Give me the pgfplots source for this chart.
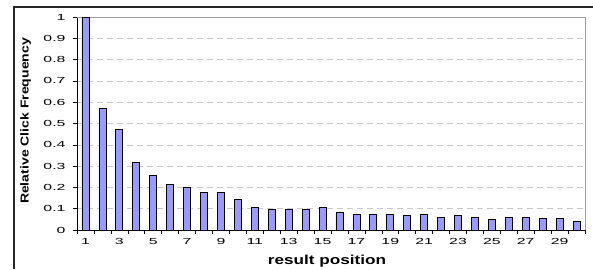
\documentclass[border=0pt]{standalone}
\usepackage{pgfplots}
\pgfplotsset{compat=1.18}
\usepackage{fontspec}
\setmainfont{Liberation Sans}
\newcommand\sx[1]{\scalebox{1.8}[1]{#1}}
\definecolor{barfill}{RGB}{153,153,255}
\definecolor{gridc}{RGB}{200,200,200}
\definecolor{boxc}{RGB}{160,160,160}
\begin{document}
\begin{tikzpicture}[x=1pt,y=1pt]
\useasboundingbox (0,0) rectangle (593,269);
\draw[line width=1.2pt, black!85] (14,0) -- (14,262) -- (593,262);
\begin{axis}[at={(77pt,39pt)}, anchor=south west, scale only axis,
  width=508pt, height=213pt,
  xmin=0.5, xmax=30.5, ymin=0, ymax=1,
  ybar, bar width=7pt, bar shift=0pt,
  clip=false,
  axis line style={line width=0.9pt, black},
  xtick={0.5,1.5,...,30.5}, xticklabels={},
  extra x ticks={1,3,5,7,9,11,13,15,17,19,21,23,25,27,29},
  extra x tick labels={\sx{1},\sx{3},\sx{5},\sx{7},\sx{9},\sx{11},\sx{13},\sx{15},\sx{17},\sx{19},\sx{21},\sx{23},\sx{25},\sx{27},\sx{29}},
  extra x tick style={major tick length=0pt, grid=none, tick label style={yshift=-4.5pt}},
  ytick={0,0.1,...,1},
  yticklabels={\sx{0},\sx{0.1},\sx{0.2},\sx{0.3},\sx{0.4},\sx{0.5},\sx{0.6},\sx{0.7},\sx{0.8},\sx{0.9},\sx{1}},
  yticklabel style={xshift=-4pt},
  tick pos=left, tick align=outside, major tick length=4pt,
  tick style={line width=0.6pt, black},
  tick label style={font=\fontsize{8.8}{10}\selectfont},
  ymajorgrids, major grid style={gridc, line width=0.6pt, dash pattern=on 6pt off 4pt},
  xlabel={\scalebox{1.32}[1]{\bfseries result position}},
  xlabel style={at={(axis description cs:0.492,-0.1455)}, anchor=center, font=\fontsize{13}{15}\selectfont},
  ylabel={\scalebox{1.22}[1]{\bfseries Relative Click Frequency}},
  ylabel style={at={(axis description cs:-0.101,0.512)}, anchor=center, font=\fontsize{11.5}{13}\selectfont},
]
\draw[white, line width=1.6pt] (rel axis cs:0.003,1) -- (rel axis cs:1,1) -- (rel axis cs:1,0.003);
\draw[boxc, line width=0.8pt] (rel axis cs:0,1) -- (rel axis cs:1,1) -- (rel axis cs:1,0);
\addplot[fill=barfill, draw=black, line width=0.8pt] coordinates {
(1,1.0) (2,0.571) (3,0.474) (4,0.318) (5,0.258) (6,0.214) (7,0.199) (8,0.175) (9,0.177) (10,0.144)
(11,0.107) (12,0.097) (13,0.099) (14,0.097) (15,0.107) (16,0.083) (17,0.074) (18,0.074) (19,0.074) (20,0.070)
(21,0.074) (22,0.061) (23,0.070) (24,0.061) (25,0.048) (26,0.058) (27,0.058) (28,0.055) (29,0.055) (30,0.042)
};
\end{axis}
\end{tikzpicture}
\end{document}
